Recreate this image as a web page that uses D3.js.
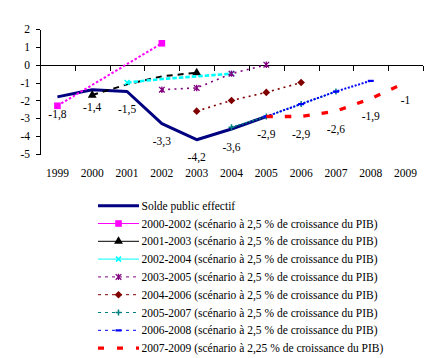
<!DOCTYPE html>
<html><head><meta charset="utf-8">
<script src="https://cdn.jsdelivr.net/npm/d3@7"></script>
<style>
html,body{margin:0;padding:0;background:#fff;}
</style></head>
<body><svg id="c" width="435" height="358" font-family="Liberation Serif" font-size="11.5"></svg>
<script>
const years = ["1999","2000","2001","2002","2003","2004","2005","2006","2007","2008","2009"];
const yTicks = [-5,-4,-3,-2,-1,0,1,2];

// values per year (null = no point)
const effectif = [-1.8,-1.4,-1.5,-3.3,-4.2,-3.6,-2.9,null,null,null,null];
const s2000_2002 = [-2.3,null,null,1.2,null,null,null,null,null,null,null];
const s2001_2003 = [null,-1.7,-1.1,-0.65,-0.45,null,null,null,null,null,null];
const s2002_2004 = [null,null,-1.0,-0.8,-0.65,-0.5,null,null,null,null,null];
const s2003_2005 = [null,null,null,-1.4,-1.3,-0.5,0,null,null,null,null];
const s2004_2006 = [null,null,null,null,-2.6,-2.0,-1.55,-1.0,null,null,null];
const s2005_2007 = [null,null,null,null,null,-3.5,-2.9,-2.2,-1.5,null,null];
const s2006_2008 = [null,null,null,null,null,null,-2.9,-2.2,-1.5,-0.9,null];
const s2007_2009 = [null,null,null,null,null,null,-2.9,-2.9,-2.6,-1.9,-1.0];

// data labels: effective balance 1999-2005, then 2007-2009 scenario 2006-2009
const labelYears = ["1999","2000","2001","2002","2003","2004","2005","2006","2007","2008","2009"];
const labelValues = [-1.8,-1.4,-1.5,-3.3,-4.2,-3.6,-2.9,-2.9,-2.6,-1.9,-1];

const seriesNames = [
 "Solde public effectif",
 "2000-2002 (scénario à 2,5 % de croissance du PIB)",
 "2001-2003 (scénario à 2,5 % de croissance du PIB)",
 "2002-2004 (scénario à 2,5 % de croissance du PIB)",
 "2003-2005 (scénario à 2,5 % de croissance du PIB)",
 "2004-2006 (scénario à 2,5 % de croissance du PIB)",
 "2005-2007 (scénario à 2,5 % de croissance du PIB)",
 "2006-2008 (scénario à 2,5 % de croissance du PIB)",
 "2007-2009 (scénario à 2,25 % de croissance du PIB)"
];
const seriesValues = [effectif,s2000_2002,s2001_2003,s2002_2004,s2003_2005,s2004_2006,s2005_2007,s2006_2008,s2007_2009];
const seriesColors = ["#000080","#FF00FF","#000000","#00FFFF","#800080","#800000","#008080","#0000FF","#FF0000"];
const seriesMarkers = ["none","square","triangle","x","star","diamond","plus","dash","none"];
// which years get a marker (endpoints only for some series)
const markerYears = [
 [],
 ["1999","2002"],
 ["2000","2003"],
 ["2001","2004"],
 ["2002","2003","2004","2005"],
 ["2003","2004","2005","2006"],
 ["2004","2005","2006","2007"],
 ["2005","2006","2007","2008"],
 []
];
const lineStyles = [
 {w:3,d:null},{w:2,d:"2.5,2"},{w:2,d:"6,5"},{w:2.6,d:"4.5,2"},
 {w:1.6,d:"2,4.3"},{w:1.6,d:"2,4"},{w:1.6,d:"2,1.6"},{w:2,d:"2,1.6"},{w:3.3,d:"6.5,12"}
];
const legendStyles = [
 {w:3,d:null},{w:1,d:null},{w:1,d:null},{w:1,d:null},
 {w:1,d:"3,4"},{w:1,d:"3,4"},{w:1,d:"3,4"},{w:1,d:"3,4"},{w:3.3,d:"6,13"}
];

const FONT = "Liberation Serif";
const svg = d3.select("#c");
const x = d3.scaleBand().domain(years).range([40,423]);
const y = d3.scaleLinear().domain([-5,2]).range([154,29]);
const cx = d => x(d) + x.bandwidth()/2;

// Y axis
const yAxis = d3.axisLeft(y).tickValues(yTicks).tickSize(4).tickSizeOuter(0).tickPadding(6).tickFormat(d => String(d));
const gy = svg.append("g").attr("transform","translate(40,0)").call(yAxis)
  .attr("font-family",FONT).attr("font-size",11.5);
gy.selectAll("path,line").attr("stroke","#000").attr("shape-rendering","crispEdges");
gy.selectAll("text").attr("font-family",FONT).attr("font-size",11.5).attr("fill","#000");

// X axis at y = 0
const y0 = Math.round(y(0)) + 0.5;
svg.append("line").attr("x1",40).attr("x2",x.range()[1]).attr("y1",y0).attr("y2",y0)
  .attr("stroke","#000").attr("shape-rendering","crispEdges");
const bounds = years.map(d => x(d)).concat([x.range()[1]]);
svg.selectAll(".xt").data(bounds).enter().append("line")
  .attr("x1",d=>Math.round(d)+0.5).attr("x2",d=>Math.round(d)+0.5)
  .attr("y1",y0).attr("y2",y0+5).attr("stroke","#000").attr("shape-rendering","crispEdges");
svg.selectAll(".xl").data(years).enter().append("text")
  .attr("font-family",FONT).attr("font-size",11.5)
  .attr("x",d=>cx(d)).attr("y",177).attr("text-anchor","middle").text(d=>d);

// markers
function drawMarker(g, type, px, py, color){
  if(type==="square"){
    g.append("rect").attr("x",px-3.3).attr("y",py-3.3).attr("width",6.6).attr("height",6.6).attr("fill",color);
  } else if(type==="triangle"){
    g.append("path").attr("d",d3.symbol(d3.symbolTriangle,34)()).attr("transform",`translate(${px},${py})`).attr("fill",color);
  } else if(type==="diamond"){
    g.append("path").attr("d",`M${px},${py-3.8}L${px+3.8},${py}L${px},${py+3.8}L${px-3.8},${py}Z`).attr("fill",color);
  } else if(type==="x"){
    g.append("path").attr("d",`M${px-2.5},${py-2.5}L${px+2.5},${py+2.5}M${px-2.5},${py+2.5}L${px+2.5},${py-2.5}`).attr("stroke",color).attr("stroke-width",1.5);
  } else if(type==="star"){
    g.append("path").attr("d",`M${px-2.8},${py-2.8}L${px+2.8},${py+2.8}M${px-2.8},${py+2.8}L${px+2.8},${py-2.8}M${px},${py-3.2}L${px},${py+3.2}`).attr("stroke",color).attr("stroke-width",1.3);
  } else if(type==="plus"){
    g.append("path").attr("d",`M${px-3},${py}L${px+3},${py}M${px},${py-3}L${px},${py+3}`).attr("stroke",color).attr("stroke-width",1.5);
  } else if(type==="dash"){
    g.append("rect").attr("x",px-3).attr("y",py-1).attr("width",6).attr("height",2.2).attr("fill",color);
  }
}

const line = d3.line().x(d=>cx(d.year)).y(d=>y(d.v));
seriesValues.forEach((vals,i)=>{
  const pts = years.map((yr,j)=>({year:yr,v:vals[j]})).filter(d=>d.v!==null);
  const g = svg.append("g");
  const p = g.append("path").datum(pts).attr("d",line).attr("fill","none")
    .attr("stroke",seriesColors[i]).attr("stroke-width",lineStyles[i].w)
    .attr("stroke-linejoin","round");
  if(lineStyles[i].d) p.attr("stroke-dasharray",lineStyles[i].d);
  pts.filter(d=>markerYears[i].includes(d.year)).forEach(d=>{
    drawMarker(g, seriesMarkers[i], cx(d.year), y(d.v), seriesColors[i]);
  });
});

// data labels
svg.selectAll(".dl").data(labelYears).enter().append("text")
  .attr("font-family",FONT).attr("font-size",11.5)
  .attr("x",d=>cx(d)).attr("y",(d,i)=>y(labelValues[i])+21.5)
  .attr("text-anchor","middle")
  .text((d,i)=>String(labelValues[i]).replace(".",","));

// legend
const lg = svg.append("g");
seriesNames.forEach((name,i)=>{
  const ly = 205.7 + i*17.8;
  const l = lg.append("line").attr("x1",98).attr("x2",139).attr("y1",ly).attr("y2",ly)
    .attr("stroke",seriesColors[i]).attr("stroke-width",legendStyles[i].w);
  if(legendStyles[i].d) l.attr("stroke-dasharray",legendStyles[i].d);
  drawMarker(lg, seriesMarkers[i], 118.5, ly, seriesColors[i]);
  lg.append("text").attr("font-family",FONT).attr("font-size",11.5)
    .attr("x",141.5).attr("y",ly+4).text(name);
});
</script></body></html>
